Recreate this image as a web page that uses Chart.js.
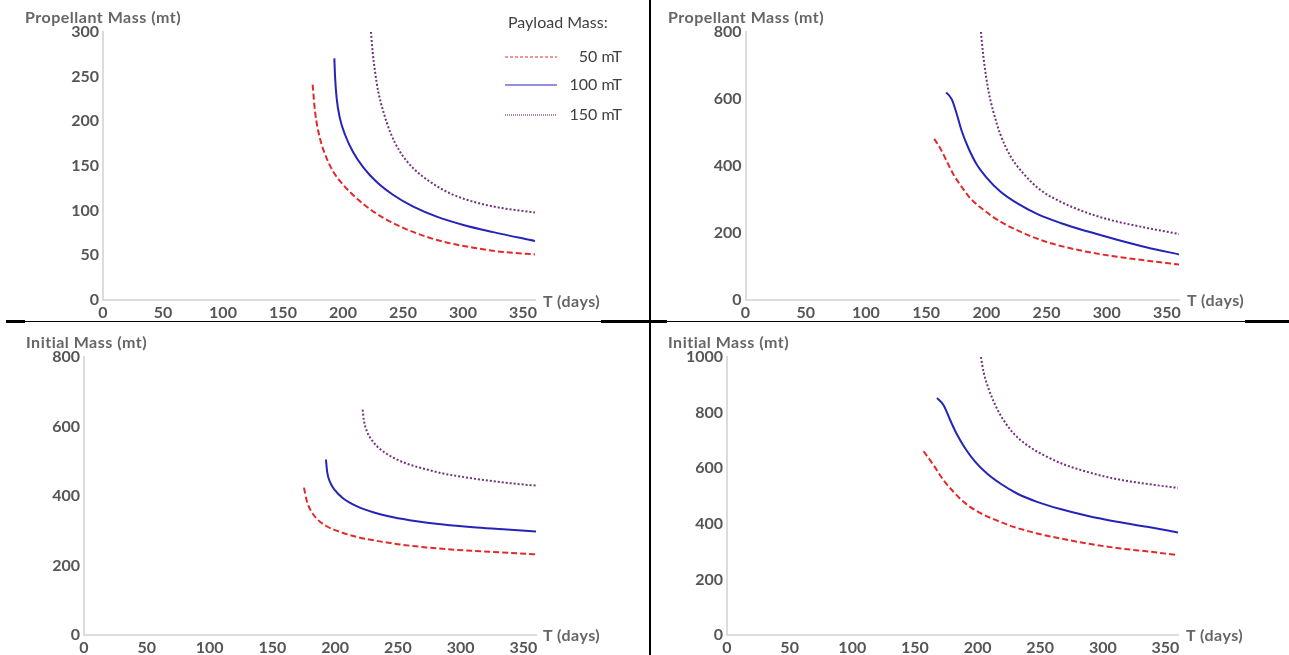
<!DOCTYPE html>
<html>
<head>
<meta charset="utf-8">
<script src="https://cdn.jsdelivr.net/npm/chart.js@4.4.1/dist/chart.umd.min.js"></script>
<style>
body { margin: 0; width: 1289px; height: 655px; background: #fff; position: relative; overflow: hidden; font-family: Lato, sans-serif; }
canvas { position: absolute; }
.ttl { position: absolute; font: bold 16px Lato, sans-serif; letter-spacing: 0.5px; color: #666; white-space: nowrap; line-height: 1; transform: translateY(-50%); }
.rule { position: absolute; background: #000; }
</style>
</head>
<body>
<canvas id="chartA" width="648" height="321" style="left:0;top:0"></canvas>
<canvas id="chartB" width="639" height="321" style="left:650px;top:0"></canvas>
<canvas id="chartC" width="648" height="333" style="left:0;top:322px"></canvas>
<canvas id="chartD" width="639" height="333" style="left:650px;top:322px"></canvas>

<div class="ttl" style="left:25px;top:17px">Propellant Mass (mt)</div>
<div class="ttl" style="left:668px;top:17px">Propellant Mass (mt)</div>
<div class="ttl" style="left:26px;top:342px">Initial Mass (mt)</div>
<div class="ttl" style="left:668px;top:342px">Initial Mass (mt)</div>
<div class="ttl" style="left:543px;top:301px">T (days)</div>
<div class="ttl" style="left:1187px;top:300px">T (days)</div>
<div class="ttl" style="left:543px;top:635px">T (days)</div>
<div class="ttl" style="left:1186px;top:635px">T (days)</div>

<div class="rule" style="left:649px;top:0;width:2px;height:655px"></div>
<div class="rule" style="left:6px;top:321px;width:1283px;height:1px"></div>
<div class="rule" style="left:6px;top:320px;width:19px;height:3px"></div>
<div class="rule" style="left:601px;top:320px;width:66px;height:3px"></div>
<div class="rule" style="left:1245px;top:320px;width:44px;height:3px"></div>

<script>
const payloads = ['50 mT', '100 mT', '150 mT'];

// top left : propellant mass vs T (days)
const propA50T = [174.7, 176.7, 180.8, 186.4, 191.9, 200.3, 211.4, 225.3, 241.9, 261.4, 283.6, 308.6, 330.8, 360];
const propA50M = [241, 211, 181, 158.6, 143.6, 128.7, 113.8, 99, 86, 74.6, 65.3, 58.6, 54.1, 51];
const propA100T = [192.8, 193.3, 194.7, 197.5, 201.7, 208.6, 216.9, 228.1, 241.9, 258.6, 278.1, 300.3, 325.3, 360];
const propA100M = [270.5, 252, 226, 203, 185, 165, 148.5, 132, 117.5, 104.5, 93.3, 84, 76, 66];
const propA150T = [223.3, 224.7, 226.7, 229.4, 233.6, 239.2, 247.5, 258.6, 272.5, 289.2, 308.6, 330.8, 360];
const propA150M = [300, 278, 255.6, 233, 211, 188.4, 166, 147.4, 132.4, 119.4, 110, 103.3, 98];

// top right : propellant mass vs T (days)
const propB50T = [156.7, 161.7, 167.3, 172.8, 178.3, 186.6, 197.7, 211.6, 228.2, 247.6, 269.8, 294.7, 322.4, 360];
const propB50M = [481, 453, 413, 374, 344, 304, 269, 234, 204, 176, 154.5, 136.6, 122.5, 106];
const propB100T = [166.7, 171.4, 175.6, 179.7, 185.2, 192.2, 200.5, 211.6, 225.5, 242.1, 261.5, 283.7, 308.6, 333.5, 360];
const propB100M = [620, 598, 553, 503, 453, 403.5, 364, 324, 289, 257, 230, 205, 180, 157, 136];
const propB150T = [195.5, 197.7, 201.9, 206, 211.6, 219.9, 230.9, 244.8, 261.5, 280.8, 303, 328, 360];
const propB150M = [800, 722, 622, 560, 495, 430, 377, 328.7, 293.8, 264, 239, 219, 197];

// bottom left : initial mass vs T (days)
const initC50T = [175.2, 177.3, 180.5, 185.3, 193.2, 203.8, 217.1, 233, 251.6, 272.8, 296.7, 323.2, 360];
const initC50M = [424, 388, 359, 335, 313, 297, 282.5, 271, 260.6, 252, 245, 239.4, 232];
const initC100T = [192.7, 193.7, 195.9, 199.8, 206.5, 217.1, 230.3, 246.3, 264.9, 286.1, 310, 333.8, 360];
const initC100M = [505, 469, 440.5, 416.7, 393, 371, 353.4, 339, 327.6, 318, 310.3, 304.6, 298];
const initC150T = [221.9, 222.9, 225.6, 230.3, 237, 246.3, 256.9, 270.2, 286.1, 304.7, 325.9, 347.1, 360];
const initC150M = [648.6, 618, 584, 555.5, 531.6, 510.6, 493.4, 479, 464.7, 453.2, 442.5, 434, 430];

// bottom right : initial mass vs T (days)
const initD50T = [156.9, 164.9, 172.8, 180.8, 188.8, 199.5, 212.8, 228.8, 247.5, 268.7, 290.1, 314, 338, 360];
const initD50M = [661, 611, 557, 515, 479, 445.6, 416.8, 389, 365.4, 345, 327, 311.5, 299.5, 287.5];
const initD100T = [167.6, 172.9, 178.2, 183.6, 190.2, 198.2, 207.5, 218.2, 231.5, 247.5, 266.1, 287.4, 311.4, 335.4, 360];
const initD100M = [853, 826.5, 772.5, 721, 671, 623, 581, 545, 509, 479, 453, 428.7, 407, 389, 369];
const initD150T = [202.7, 204.8, 208.8, 214.2, 220.8, 228.8, 239.5, 252.8, 268.7, 287.4, 308.7, 332.7, 360];
const initD150M = [1000, 946, 886, 826.5, 772.5, 725, 683, 647, 614, 587, 563, 545, 529];

const pair = (t, m) => t.map((v, i) => ({ x: v, y: m[i] }));

const styles = [
    { color: '#e22a2a', dash: [6, 3], legendDash: [3, 2] },
    { color: '#2424b8', dash: [], legendDash: [] },
    { color: '#74307f', dash: [2, 2], legendDash: [1, 1] },
];

// legend drawn inside the top left panel
const payloadLegend = {
    id: 'payloadLegend',
    afterDraw(chart) {
        if (!chart.options.plugins.payloadLegend.show) return;
        const ctx = chart.ctx;
        const rows = [57, 85, 115];
        ctx.save();
        ctx.font = '16px Lato';
        ctx.fillStyle = '#404040';
        ctx.textBaseline = 'middle';
        ctx.textAlign = 'left';
        ctx.fillText('Payload Mass:', 508, 23);
        ctx.textAlign = 'right';
        chart.data.datasets.forEach((ds, i) => {
            ctx.beginPath();
            ctx.strokeStyle = ds.borderColor;
            ctx.lineWidth = 1.2;
            ctx.setLineDash(styles[i].legendDash);
            ctx.moveTo(505, rows[i]);
            ctx.lineTo(557, rows[i]);
            ctx.stroke();
            ctx.fillText(ds.label, 622, rows[i]);
        });
        ctx.restore();
    }
};

const tickFont = { family: 'Lato', weight: 'bold', size: 16 };

const makeChart = (id, series, yMax, yStep, box, legend) => {
    return new Chart(document.getElementById(id), {
        type: 'line',
        data: {
            datasets: series.map((s, i) => ({
                label: payloads[i],
                data: s,
                borderColor: styles[i].color,
                borderDash: styles[i].dash,
                borderWidth: 2,
                pointRadius: 0,
                cubicInterpolationMode: 'monotone',
                fill: false,
            })),
        },
        options: {
            responsive: false,
            animation: false,
            devicePixelRatio: 1,
            layout: { padding: { left: 0, top: box.top, right: box.right, bottom: 0 } },
            plugins: {
                legend: { display: false },
                tooltip: { enabled: false },
                payloadLegend: { show: legend },
            },
            scales: {
                x: {
                    type: 'linear',
                    min: 0,
                    max: 360,
                    grid: { display: false, drawTicks: false },
                    border: { display: true, color: '#dcdcdc', width: 2 },
                    ticks: { stepSize: 50, includeBounds: false, padding: 3, color: '#555', font: tickFont, callback: (v) => String(v) },
                    afterFit: (s) => { s.height = box.xh; },
                },
                y: {
                    min: 0,
                    max: yMax,
                    grid: { display: false, drawTicks: false },
                    border: { display: true, color: '#dcdcdc', width: 2 },
                    ticks: { stepSize: yStep, padding: 4, color: '#555', font: tickFont, callback: (v) => String(v) },
                    afterFit: (s) => { s.width = box.yw; },
                },
            },
        },
        plugins: [payloadLegend],
    });
};

makeChart('chartA', [pair(propA50T, propA50M), pair(propA100T, propA100M), pair(propA150T, propA150M)],
    300, 50, { top: 32, right: 113, xh: 21, yw: 103 }, true);
makeChart('chartB', [pair(propB50T, propB50M), pair(propB100T, propB100M), pair(propB150T, propB150M)],
    800, 200, { top: 32, right: 110, xh: 21, yw: 95.5 }, false);
makeChart('chartC', [pair(initC50T, initC50M), pair(initC100T, initC100M), pair(initC150T, initC150M)],
    800, 200, { top: 35, right: 112, xh: 20, yw: 84 }, false);
makeChart('chartD', [pair(initD50T, initD50M), pair(initD100T, initD100M), pair(initD150T, initD150M)],
    1000, 200, { top: 35, right: 111, xh: 20, yw: 77 }, false);
</script>
</body>
</html>
